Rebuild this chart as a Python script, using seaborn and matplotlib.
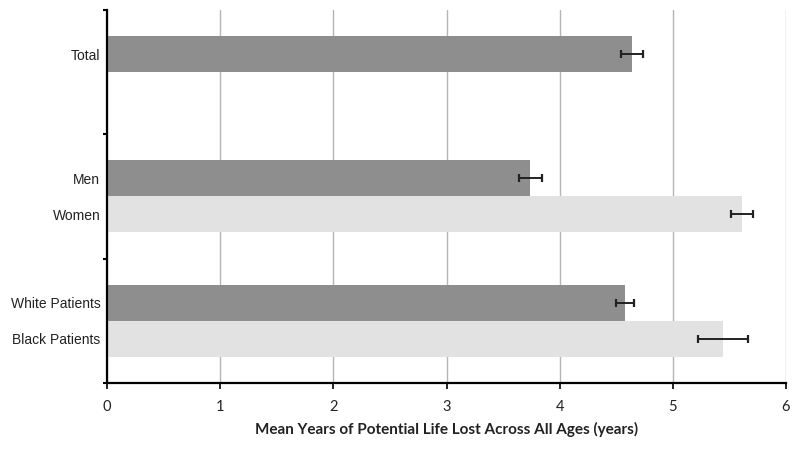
import matplotlib
matplotlib.use("Agg")
import matplotlib.pyplot as plt
import pandas as pd
import seaborn as sns

# data
groups = ["Total", "Sex", "Race"]
series = ["first", "second"]
labels = ["Total", "Men", "Women", "White Patients", "Black Patients"]
label_group = ["Total", "Sex", "Sex", "Race", "Race"]
label_series = ["first", "first", "second", "first", "second"]
means = [4.64, 3.74, 5.61, 4.58, 5.44]
errors = [0.10, 0.10, 0.10, 0.08, 0.22]

df = pd.DataFrame({
    "group": label_group,
    "series": label_series,
    "label": labels,
    "mean": means,
    "err": errors,
})

sns.set_style("white")
plt.rcParams["font.family"] = ["Liberation Sans", "DejaVu Sans"]

fig = plt.figure(figsize=(8, 4.51), dpi=100)
ax = fig.add_axes([0.134, 0.151, 0.8485, 0.827])

sns.barplot(data=df, y="group", x="mean", hue="series", order=groups,
            hue_order=series, orient="h", width=0.58,
            palette=["#8e8e8e", "#e2e2e2"], edgecolor="none",
            errorbar=None, legend=False, ax=ax, zorder=2)

# error bars and tick positions taken from the drawn bars
centers, names = [], []
for bar in ax.patches:
    w = bar.get_width()
    if w == 0 or pd.isna(w):
        continue
    row = df.iloc[(df["mean"] - w).abs().argmin()]
    yc = bar.get_y() + bar.get_height() / 2
    ax.errorbar(w, yc, xerr=row["err"], fmt="none", ecolor="#222222",
                elinewidth=1.4, capsize=3, capthick=1.6, zorder=3)
    centers.append(yc)
    names.append(row["label"])

ax.set_xlim(0, 6)
ax.set_ylim(len(groups) - 0.5, -0.5)
ax.set_xticks(range(0, 7))
ax.set_yticks(centers)
ax.set_yticklabels(names, fontsize=10, color="#222222")
ax.set_yticks([g - 0.5 for g in range(len(groups) + 1)], minor=True)
ax.tick_params(axis="y", which="major", left=False, length=0, pad=5)
ax.tick_params(axis="y", which="minor", left=True, length=3, width=1.5,
               direction="out", color="black")
ax.tick_params(axis="x", bottom=True, length=4, width=1.2, direction="out",
               color="black", pad=8)
for t in ax.get_xticklabels():
    t.set_fontfamily(["Lato", "DejaVu Sans"])
    t.set_fontsize(10.5)
    t.set_color("#222222")

ax.grid(axis="x", color="#b5b5b5", linewidth=1, zorder=0)
ax.grid(axis="y", visible=False)
ax.set_axisbelow(True)
for side in ["top", "right"]:
    ax.spines[side].set_visible(False)
for side in ["left", "bottom"]:
    ax.spines[side].set_color("black")
    ax.spines[side].set_linewidth(1.6)

ax.set_ylabel("")
ax.set_xlabel("Mean Years of Potential Life Lost Across All Ages (years)",
              fontsize=11, fontweight="bold", fontfamily=["Lato", "DejaVu Sans"],
              color="#222222", labelpad=6)

fig.savefig("out.png", dpi=100)
